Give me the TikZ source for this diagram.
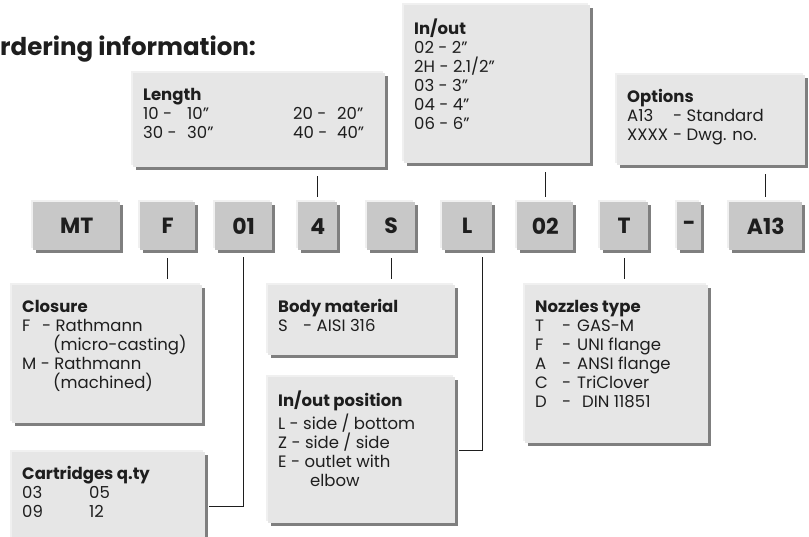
\documentclass[tikz,border=0pt]{standalone}
\usepackage{fontspec}
\setmainfont{Poppins}
\definecolor{infofill}{HTML}{E6E6E6}
\definecolor{codefill}{HTML}{C8C8C8}
\definecolor{shadecol}{HTML}{7F7F7F}
\definecolor{litecol}{HTML}{F0F0F0}
\definecolor{inkcol}{HTML}{1E1E1E}
\newcommand{\bodysize}{\fontsize{16.5}{19}\selectfont}
\newcommand{\codesize}{\fontsize{22}{24}\selectfont\bfseries}
\newcommand{\titlesize}{\fontsize{24.5}{28}\selectfont\bfseries}
\newcommand{\infobody}[3]{\parbox[c][#1][t]{#2}{\raggedright\strut #3}}
\tikzstyle{boxed}=[anchor=north west, text=inkcol, preaction={fill=shadecol, transform canvas={shift={(3pt,-3pt)}}}, preaction={fill=litecol, transform canvas={shift={(-2pt,2pt)}}}]
\tikzstyle{codebox}=[boxed, fill=codefill, font=\codesize, minimum height=48pt, inner sep=0pt]
\tikzstyle{infobox}=[boxed, fill=infofill, font=\bodysize, inner xsep=10pt, inner ysep=14pt]
\tikzstyle{link}=[draw=inkcol, line width=0.9pt]

\begin{document}
\begin{tikzpicture}[x=1pt, y=-1pt]
\useasboundingbox (0,0) rectangle (809,537);
\node[anchor=base west, inner sep=0pt, font=\titlesize, text=inkcol] at (0,56) (title) {rdering information:};

% code row
\node[codebox, minimum width=87pt] at (33,202) (mt) {MT};
\node[codebox, minimum width=55pt] at (140,202) (eff) {F};
\node[codebox, minimum width=57pt] at (215,202) (zeroone) {01};
\node[codebox, minimum width=39pt] at (298,202) (four) {4};
\node[codebox, minimum width=48pt] at (367,202) (ess) {S};
\node[codebox, minimum width=50pt] at (442,202) (ell) {L};
\node[codebox, minimum width=56pt] at (517,202) (zerotwo) {02};
\node[codebox, minimum width=48pt] at (600,202) (tee) {T};
\node[codebox, minimum width=24pt] at (677,202) (dash) {-};
\node[codebox, minimum width=73pt] at (729,202) (opt) {A13};

% boxes above
\node[infobox] at (133,73) (length) {\infobody{66pt}{232pt}{\textbf{Length}\\
\makebox[150pt][l]{\makebox[44pt][l]{10 -}10”}\makebox[44pt][l]{20 -}20”\\
\makebox[150pt][l]{\makebox[44pt][l]{30 -}30”}\makebox[44pt][l]{40 -}40”}};
\node[infobox] at (404,5) (inout) {\infobody{130pt}{166pt}{\textbf{In/out}\\
02 - 2”\\ 2H - 2.1/2”\\ 03 - 3”\\ 04 - 4”\\ 06 - 6”}};
\node[infobox] at (617,75) (options) {\infobody{62pt}{168pt}{\textbf{Options}\\
\makebox[46pt][l]{A13}- Standard\\ \makebox[46pt][l]{XXXX}- Dwg. no.}};

% boxes below
\node[infobox] at (12,285) (closure) {\infobody{110pt}{170pt}{\textbf{Closure}\\
\makebox[20pt][l]{F}- Rathmann\\ \hspace*{31pt}(micro-casting)\\
M - Rathmann\\ \hspace*{31pt}(machined)}};
\node[infobox] at (12,452) (cartridges) {\infobody{62pt}{173pt}{\textbf{Cartridges q.ty}\\
\makebox[67pt][l]{03}05\\ \makebox[67pt][l]{09}12}};
\node[infobox] at (268,285) (body) {\infobody{42pt}{167pt}{\textbf{Body material}\\
\makebox[25pt][l]{S}- AISI 316}};
\node[infobox] at (268,377) (inpos) {\infobody{118pt}{167pt}{\textbf{In/out position}\\
L - side / bottom\\ Z - side / side\\ E - outlet with\\ \hspace*{32pt}elbow}};
\node[infobox] at (525,285) (nozzles) {\infobody{130pt}{163pt}{\textbf{Nozzles type}\\
\makebox[27pt][l]{T}\makebox[15pt][l]{-}GAS-M\\
\makebox[27pt][l]{F}\makebox[15pt][l]{-}UNI flange\\
\makebox[27pt][l]{A}\makebox[15pt][l]{-}ANSI flange\\
\makebox[27pt][l]{C}\makebox[15pt][l]{-}TriClover\\
\makebox[27pt][l]{D}\makebox[15pt][l]{-}\hspace*{5pt}DIN 11851}};

% connectors
\draw[link, shorten <=9pt, shorten >=5pt] (length.south -| four.north) -- (four.north);
\draw[link, shorten <=9pt, shorten >=5pt] (inout.south -| zerotwo.north) -- (zerotwo.north);
\draw[link, shorten <=9pt, shorten >=5pt] (options.south -| opt.north) -- (opt.north);
\draw[link, shorten <=8pt, shorten >=6pt] (eff.south) -- (eff.south |- closure.north);
\draw[link, shorten <=8pt, shorten >=6pt] (ess.south) -- (ess.south |- body.north);
\draw[link, shorten <=8pt, shorten >=6pt] (tee.south) -- (tee.south |- nozzles.north);
\draw[link, shorten <=7pt, shorten >=4pt] (zeroone.south) |- ([yshift=-9pt]cartridges.east);
\draw[link, shorten <=7pt, shorten >=4pt] ([xshift=15pt]ell.south) |- (inpos.east);
\end{tikzpicture}
\end{document}
